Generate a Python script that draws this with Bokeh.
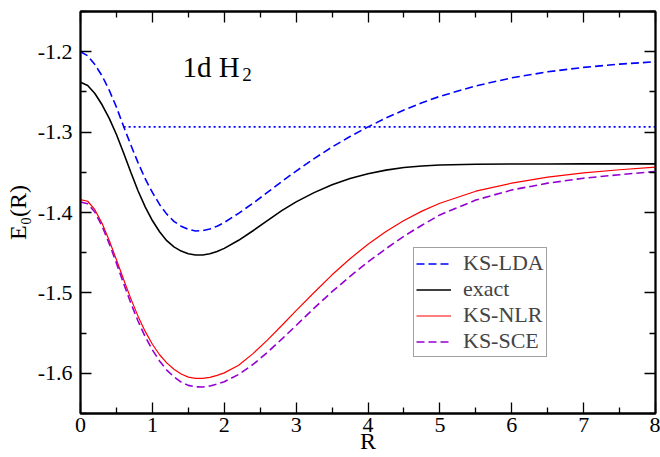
from bokeh.plotting import figure
from bokeh.models import LinearAxis, Range1d, Label, Legend, LegendItem, FixedTicker
from bokeh.embed import file_html
from bokeh.resources import INLINE

R = [0, 0.1, 0.2, 0.3, 0.4, 0.5, 0.6, 0.7, 0.8, 0.9, 1.0, 1.1, 1.2, 1.3, 1.4, 1.5,
     1.6, 1.7, 1.8, 1.9, 2.0, 2.2, 2.4, 2.6, 2.8, 3.0, 3.25, 3.5, 3.75, 4.0, 4.25,
     4.5, 4.75, 5.0, 5.5, 6.0, 6.5, 7.0, 7.5, 8.0]

ks_lda = [-1.200, -1.205, -1.216, -1.230, -1.248, -1.269, -1.293, -1.316, -1.338, -1.358,
          -1.375, -1.390, -1.402, -1.411, -1.417, -1.421, -1.423, -1.4225, -1.4205, -1.417,
          -1.4125, -1.401, -1.3885, -1.375, -1.3615, -1.3485, -1.333, -1.3185, -1.3055, -1.2935,
          -1.2825, -1.2725, -1.2635, -1.2555, -1.2425, -1.2325, -1.225, -1.2195, -1.2155, -1.2125]

exact = [-1.238, -1.242, -1.252, -1.266, -1.283, -1.303, -1.326, -1.350, -1.373, -1.393,
         -1.410, -1.424, -1.435, -1.4428, -1.448, -1.4512, -1.4528, -1.4529, -1.4513, -1.4485,
         -1.4446, -1.4346, -1.4227, -1.410, -1.3976, -1.3868, -1.3753, -1.3655, -1.3578, -1.3518,
         -1.3473, -1.3441, -1.3421, -1.3409, -1.340, -1.3397, -1.3396, -1.3395, -1.3395, -1.3395]

ks_nlr = [-1.384, -1.386, -1.3965, -1.4135, -1.4348, -1.4588, -1.4833, -1.5071, -1.5289, -1.5479,
          -1.5639, -1.5769, -1.587, -1.5949, -1.6009, -1.6048, -1.6062, -1.6062, -1.605, -1.6026,
          -1.5995, -1.590, -1.5755, -1.5587, -1.5405, -1.522, -1.4995, -1.4775, -1.4575, -1.4395,
          -1.4237, -1.410, -1.3983, -1.3885, -1.3735, -1.3635, -1.356, -1.3508, -1.3468, -1.3435]

ks_sce = [-1.387, -1.389, -1.3995, -1.417, -1.4388, -1.463, -1.4883, -1.5126, -1.5349, -1.5544,
          -1.5709, -1.5847, -1.596, -1.6044, -1.611, -1.615, -1.6168, -1.617, -1.6158, -1.6135,
          -1.6105, -1.6015, -1.589, -1.574, -1.5575, -1.5405, -1.519, -1.4985, -1.4795, -1.4615,
          -1.445, -1.4295, -1.4158, -1.403, -1.3845, -1.372, -1.3635, -1.3573, -1.353, -1.349]

dotted_x = [0.6, 8.0]
dotted_y = [-1.2935, -1.2935]

x_ticks = [0, 1, 2, 3, 4, 5, 6, 7, 8]
x_minor = [0.5, 1.5, 2.5, 3.5, 4.5, 5.5, 6.5, 7.5]
y_ticks = [-1.6, -1.5, -1.4, -1.3, -1.2]
y_minor = [-1.65, -1.55, -1.45, -1.35, -1.25, -1.15]

FONT = "Liberation Serif"

p = figure(width=660, height=457, x_range=Range1d(0, 8), y_range=Range1d(-1.65, -1.15),
           output_backend="svg", toolbar_location=None,
           min_border_left=80, min_border_top=11, min_border_right=5, min_border_bottom=44)
p.xgrid.visible = False
p.ygrid.visible = False
p.outline_line_color = "black"
p.outline_line_width = 1.8
p.background_fill_color = "white"
p.border_fill_color = "white"


def style_axis(ax, ticks, minor, labels=True):
    ax.ticker = FixedTicker(ticks=ticks, minor_ticks=minor)
    ax.major_tick_in = 11
    ax.major_tick_out = 0
    ax.minor_tick_in = 6
    ax.minor_tick_out = 0
    ax.axis_line_color = "black"
    ax.axis_line_width = 1.8
    ax.major_tick_line_color = "black"
    ax.minor_tick_line_color = "black"
    ax.major_tick_line_width = 1.3
    ax.minor_tick_line_width = 1.3
    ax.major_label_text_font = FONT
    ax.major_label_text_font_size = "22px"
    ax.major_label_text_color = "black"
    ax.axis_label_text_font = FONT
    ax.axis_label_text_font_size = "24px"
    ax.axis_label_text_font_style = "normal"
    ax.axis_label_text_color = "black"
    if not labels:
        ax.major_label_overrides = {t: "" for t in ticks}
        ax.major_label_standoff = 0


style_axis(p.xaxis[0], x_ticks, x_minor)
style_axis(p.yaxis[0], y_ticks, y_minor)
p.xaxis[0].axis_label = "R"
p.xaxis[0].major_label_standoff = 4
p.xaxis[0].axis_label_standoff = -7
p.yaxis[0].axis_label = "E\u2080(R)"
p.yaxis[0].major_label_standoff = 8
p.yaxis[0].axis_label_standoff = 4
p.yaxis[0].major_label_overrides = {t: f"{t:.1f}" for t in y_ticks}

top = LinearAxis()
style_axis(top, x_ticks, x_minor, labels=False)
p.add_layout(top, "above")
right = LinearAxis()
style_axis(right, y_ticks, y_minor, labels=False)
p.add_layout(right, "right")

r_lda = p.line(R, ks_lda, line_color="#0000ff", line_width=1.6, line_dash="8 4")
r_ex = p.line(R, exact, line_color="black", line_width=1.6)
r_nlr = p.line(R, ks_nlr, line_color="#ff0000", line_width=1.2)
r_sce = p.line(R, ks_sce, line_color="#9400d3", line_width=1.6, line_dash="8 4")
p.line(dotted_x, dotted_y, line_color="#0000ff", line_width=1.6, line_dash="2 3")

p.add_layout(Label(x=1.42, y=-1.2191, text="1d H", text_font=FONT,
                   text_font_size="29px", text_color="black",
                   text_baseline="alphabetic"))
p.add_layout(Label(x=2.25, y=-1.2288, text="2", text_font=FONT,
                   text_font_size="19px", text_color="black",
                   text_baseline="alphabetic"))

legend = Legend(items=[
    LegendItem(label="KS-LDA", renderers=[r_lda]),
    LegendItem(label="exact", renderers=[r_ex]),
    LegendItem(label="KS-NLR", renderers=[r_nlr]),
    LegendItem(label="KS-SCE", renderers=[r_sce]),
], location=(333, 56))
legend.label_text_font = FONT
legend.label_text_font_size = "22px"
legend.label_height = 21
legend.label_standoff = 12
legend.glyph_width = 35
legend.glyph_height = 21
legend.spacing = 0
legend.padding = 2
legend.margin = 0
legend.border_line_color = "#444444"
legend.border_line_width = 1.5
legend.background_fill_alpha = 1.0
p.add_layout(legend)

open("out.html", "w").write(file_html(p, INLINE))
